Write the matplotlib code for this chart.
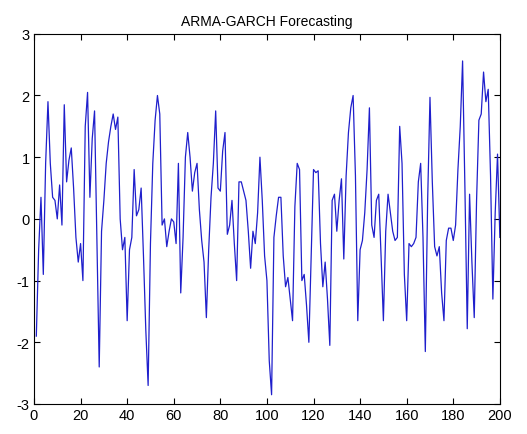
import numpy as np
import matplotlib
matplotlib.use("Agg")
import matplotlib.pyplot as plt

##forecast values, one per step (steps 1..200)
values = [
    -1.9, -0.5, 0.35, -0.9, 0.9, 1.9, 0.9, 0.35, 0.3, 0.0,
    0.55, -0.1, 1.85, 0.6, 0.95, 1.15, 0.5, -0.3, -0.7, -0.4,
    -1.0, 1.5, 2.05, 0.35, 1.3, 1.75, -0.3, -2.4, -0.2, 0.3,
    0.9, 1.25, 1.5, 1.7, 1.45, 1.65, 0.0, -0.5, -0.3, -1.65,
    -0.5, -0.3, 0.8, 0.05, 0.15, 0.5, -0.6, -1.8, -2.7, -0.4,
    0.9, 1.6, 2.0, 1.7, -0.1, 0.0, -0.45, -0.2, 0.0, -0.05,
    -0.4, 0.9, -1.2, -0.3, 1.0, 1.4, 1.0, 0.45, 0.75, 0.9,
    0.15, -0.35, -0.7, -1.6, -0.5, 0.35, 0.9, 1.75, 0.5, 0.45,
    1.1, 1.4, -0.25, -0.1, 0.3, -0.4, -1.0, 0.6, 0.6, 0.45,
    0.3, -0.2, -0.8, -0.2, -0.4, 0.1, 1.0, 0.3, -0.6, -1.0,
    -2.3, -2.85, -0.3, 0.05, 0.35, 0.35, -0.6, -1.1, -0.95, -1.3,
    -1.65, 0.2, 0.9, 0.8, -1.0, -0.9, -1.4, -2.0, -0.6, 0.8,
    0.75, 0.78, -0.4, -1.1, -0.7, -1.3, -2.05, 0.3, 0.4, -0.2,
    0.3, 0.65, -0.65, 0.7, 1.4, 1.8, 2.0, 0.7, -1.65, -0.5,
    -0.35, 0.1, 0.8, 1.8, -0.1, -0.3, 0.3, 0.4, -0.6, -1.65,
    -0.2, 0.4, 0.1, -0.2, -0.35, -0.3, 1.5, 0.9, -0.9, -1.65,
    -0.4, -0.45, -0.4, -0.3, 0.6, 0.9, -0.3, -2.15, 0.3, 1.97,
    0.6, -0.45, -0.6, -0.45, -1.2, -1.65, -0.35, -0.15, -0.15, -0.35,
    -0.1, 0.8, 1.5, 2.56, 0.5, -1.78, 0.4, -0.7, -1.6, 0.3,
    1.6, 1.7, 2.38, 1.9, 2.1, 0.7, -1.3, 0.1, 1.05, -0.3,
]
steps = np.arange(1, len(values) + 1)

xticks = [0, 20, 40, 60, 80, 100, 120, 140, 160, 180, 200]
yticks = [-3, -2, -1, 0, 1, 2, 3]

plt.rcParams['font.family'] = ['Liberation Sans', 'DejaVu Sans']
plt.rcParams['axes.unicode_minus'] = False

fig = plt.figure(figsize=(5.27, 4.35), dpi=100)
ax = fig.add_axes([0.0645, 0.069, 0.884, 0.851])
ax.plot(steps, values, color='#1f1fcc', linewidth=0.9)

ax.set_xlim(0, 200)
ax.set_ylim(-3, 3)
ax.set_xticks(xticks)
ax.set_yticks(yticks)
ax.tick_params(direction='in', top=True, right=True, length=4, labelsize=10.5, pad=3)
for s in ax.spines.values():
    s.set_linewidth(0.8)
ax.set_title("ARMA-GARCH Forecasting", fontsize=10, pad=6)

fig.savefig("out.png", dpi=100)
